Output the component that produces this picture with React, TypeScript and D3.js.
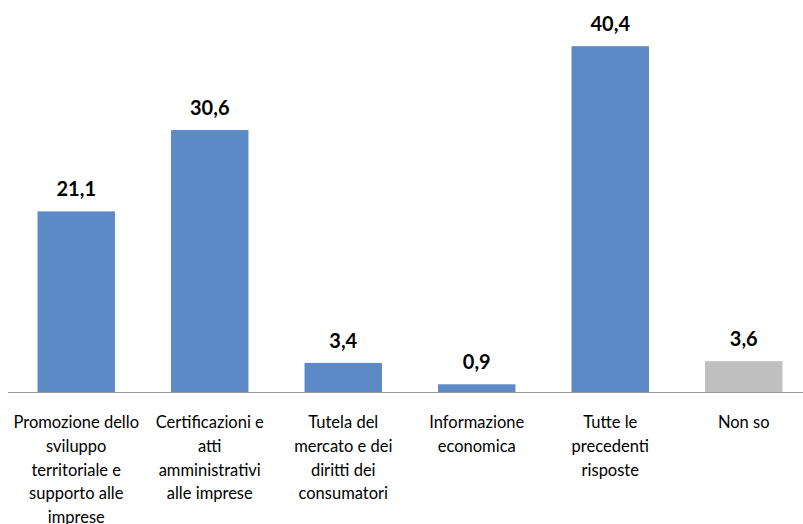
import React from "react";
import * as d3 from "d3";

const categories: string[][] = [
  ["Promozione dello", "sviluppo", "territoriale e", "supporto alle", "imprese"],
  ["Certificazioni e", "atti", "amministrativi", "alle imprese"],
  ["Tutela del", "mercato e dei", "diritti dei", "consumatori"],
  ["Informazione", "economica"],
  ["Tutte le", "precedenti", "risposte"],
  ["Non so"],
];
const values: number[] = [21.1, 30.6, 3.4, 0.9, 40.4, 3.6];
const labels: string[] = ["21,1", "30,6", "3,4", "0,9", "40,4", "3,6"];
const barColors: string[] = ["#5b8ac6", "#5b8ac6", "#5b8ac6", "#5b8ac6", "#5b8ac6", "#c0c0c0"];

export default function App() {
  const W = 803, H = 524;
  const baseY = 392;
  const x = d3.scaleBand<number>().domain(d3.range(values.length)).range([9.5, 810.5]).paddingInner(0.42).paddingOuter(0.21);
  const y = d3.scaleLinear().domain([0, 45]).range([baseY, baseY - 45 * 8.56]);
  const font = "Lato, 'Open Sans', sans-serif";
  return (
    <svg width={W} height={H} style={{ position: "absolute", left: 0, top: 0 }}>
      <rect width={W} height={H} fill="#fff" />
      {values.map((v, i) => (
        <rect key={i} x={x(i)} y={y(v)} width={x.bandwidth()} height={baseY - y(v)} fill={barColors[i]} />
      ))}
      <line x1={8} x2={W} y1={baseY + 0.5} y2={baseY + 0.5} stroke="#999" strokeWidth={1.2} />
      {values.map((v, i) => (
        <text key={"l" + i} x={x(i)! + x.bandwidth() / 2} y={y(v) - 15} textAnchor="middle" fontFamily={font} fontWeight="bold" fontSize={20} fill="#000">
          {labels[i]}
        </text>
      ))}
      {categories.map((lines, i) => (
        <text key={"c" + i} textAnchor="middle" fontFamily={font} fontSize={16.5} fill="#000">
          {lines.map((t, j) => (
            <tspan key={j} x={x(i)! + x.bandwidth() / 2} y={428 + j * 23.8}>{t}</tspan>
          ))}
        </text>
      ))}
    </svg>
  );
}
